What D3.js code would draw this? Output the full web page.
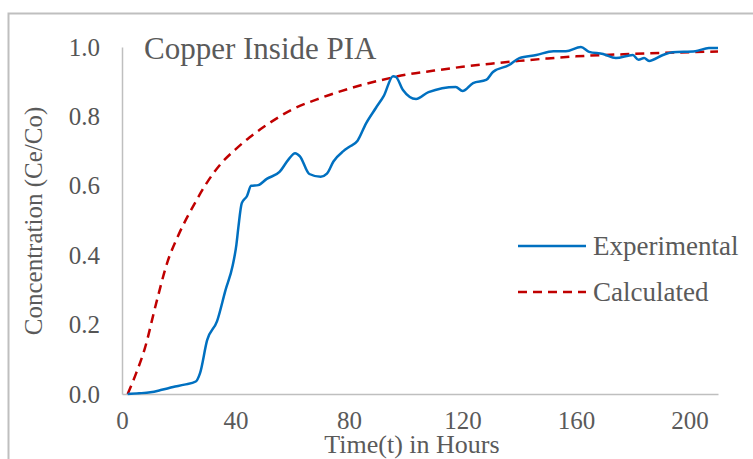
<!DOCTYPE html>
<html>
<head>
<meta charset="utf-8">
<script src="https://cdn.jsdelivr.net/npm/d3@7"></script>
<style>
  html, body { margin: 0; padding: 0; background: #fff; }
  svg { display: block; }
</style>
</head>
<body>
<svg id="chart" width="753" height="459"></svg>
<script>
// Breakthrough data: time (hours) vs Ce/Co
const expTime = [2, 6, 10, 14, 18, 22, 26, 27.5, 30, 33.5, 36.5, 39, 40.3, 41, 42.2, 44, 45.5, 48, 51, 55.5, 58.5, 61, 62.7, 66, 70, 72.2, 74.5, 78, 80, 83, 86, 89.5, 92.3, 95.5, 96.5, 99, 103.6, 108, 117.6, 120, 123.7, 128.3, 130.7, 136.4, 140, 146, 152, 156.4, 161.7, 164.6, 169.5, 174, 180, 182, 184, 185.7, 190.6, 194, 202, 206.8, 210];
const expConc = [0, 0.002, 0.005, 0.012, 0.02, 0.027, 0.036, 0.06, 0.155, 0.21, 0.3, 0.37, 0.43, 0.48, 0.55, 0.57, 0.6, 0.602, 0.62, 0.64, 0.674, 0.694, 0.685, 0.634, 0.626, 0.635, 0.67, 0.7, 0.712, 0.73, 0.78, 0.825, 0.86, 0.916, 0.914, 0.876, 0.85, 0.87, 0.885, 0.873, 0.896, 0.905, 0.928, 0.948, 0.968, 0.977, 0.988, 0.988, 1.0, 0.986, 0.98, 0.968, 0.977, 0.963, 0.968, 0.96, 0.977, 0.985, 0.988, 0.997, 0.997];

const calcTime = [2, 5, 8, 12, 16, 20, 25, 30, 35, 40, 45, 50, 60, 70, 80, 90, 100, 110, 120, 130, 140, 150, 160, 170, 180, 190, 200, 210];
const calcConc = [0, 0.06, 0.13, 0.26, 0.38, 0.46, 0.54, 0.61, 0.665, 0.705, 0.74, 0.77, 0.82, 0.853, 0.88, 0.902, 0.92, 0.932, 0.943, 0.952, 0.96, 0.967, 0.973, 0.977, 0.98, 0.983, 0.985, 0.987];

const xTicks = [0, 40, 80, 120, 160, 200];
const yTicks = [0, 0.2, 0.4, 0.6, 0.8, 1.0];

const seriesNames = ["Experimental", "Calculated"];
const titleText = "Copper Inside PIA";
const xTitle = "Time(t) in Hours";
const yTitle = "Concentration (Ce/Co)";

const FONT = "Liberation Serif";
const TEXT = "#5a5a5a";

const svg = d3.select("#chart");
const plot = { left: 122, right: 718, top: 47, bottom: 394 };

const x = d3.scaleLinear().domain([0, 210]).range([plot.left, plot.right]);
const y = d3.scaleLinear().domain([0, 1]).range([plot.bottom, plot.top]);

// chart area frame
svg.append("rect")
  .attr("x", 8.5).attr("y", 13.5)
  .attr("width", 760).attr("height", 460)
  .attr("fill", "#fff")
  .attr("stroke", "#bfbfbf").attr("stroke-width", 2);

// y axis
const yAxis = d3.axisLeft(y).tickValues(yTicks).tickSize(0).tickPadding(22)
  .tickFormat(d3.format(".1f"));
const gy = svg.append("g").attr("transform", `translate(${plot.left},0)`).call(yAxis);
gy.attr("font-family", FONT).attr("font-size", 25);
gy.select(".domain").attr("stroke", "#bfbfbf").attr("stroke-width", 1.5);
gy.selectAll("text").attr("fill", "#555");

// x axis
const xAxis = d3.axisBottom(x).tickValues(xTicks).tickSize(0).tickPadding(17)
  .tickFormat(d3.format("d"));
const gx = svg.append("g").attr("transform", `translate(0,${plot.bottom})`).call(xAxis);
gx.attr("font-family", FONT).attr("font-size", 25);
gx.select(".domain").attr("stroke", "#bfbfbf").attr("stroke-width", 1.5);
gx.selectAll("text").attr("fill", TEXT);

// series lines
const line = d3.line()
  .x(d => x(d[0]))
  .y(d => y(d[1]))
  .curve(d3.curveMonotoneX);

const calcData = calcTime.map((t, i) => [t, calcConc[i]]);
const expData = expTime.map((t, i) => [t, expConc[i]]);

svg.append("path")
  .datum(calcData)
  .attr("d", line)
  .attr("fill", "none")
  .attr("stroke", "#C00000")
  .attr("stroke-width", 2.5)
  .attr("stroke-dasharray", "9,6");

svg.append("path")
  .datum(expData)
  .attr("d", line)
  .attr("fill", "none")
  .attr("stroke", "#0070C0")
  .attr("stroke-width", 2.5)
  .attr("stroke-linejoin", "round");

// title
svg.append("text")
  .attr("x", 144).attr("y", 59)
  .attr("font-family", FONT).attr("font-size", 31).attr("fill", TEXT)
  .text(titleText);

// axis titles
svg.append("text")
  .attr("x", 412).attr("y", 453)
  .attr("text-anchor", "middle")
  .attr("font-family", FONT).attr("font-size", 26).attr("fill", TEXT)
  .text(xTitle);

svg.append("text")
  .attr("transform", "translate(42,221) rotate(-90)")
  .attr("text-anchor", "middle")
  .attr("font-family", FONT).attr("font-size", 25).attr("fill", TEXT)
  .text(yTitle);

// legend
const legend = svg.append("g");
const legendRows = [
  { name: seriesNames[0], color: "#0070C0", dash: null, y: 246 },
  { name: seriesNames[1], color: "#C00000", dash: "9,6", y: 292 }
];
legendRows.forEach(r => {
  legend.append("line")
    .attr("x1", 518).attr("x2", 586)
    .attr("y1", r.y).attr("y2", r.y)
    .attr("stroke", r.color).attr("stroke-width", 2.5)
    .attr("stroke-dasharray", r.dash);
  legend.append("text")
    .attr("x", 593).attr("y", r.y)
    .attr("dy", "0.35em")
    .attr("font-family", FONT).attr("font-size", 27).attr("fill", TEXT)
    .text(r.name);
});
</script>
</body>
</html>
